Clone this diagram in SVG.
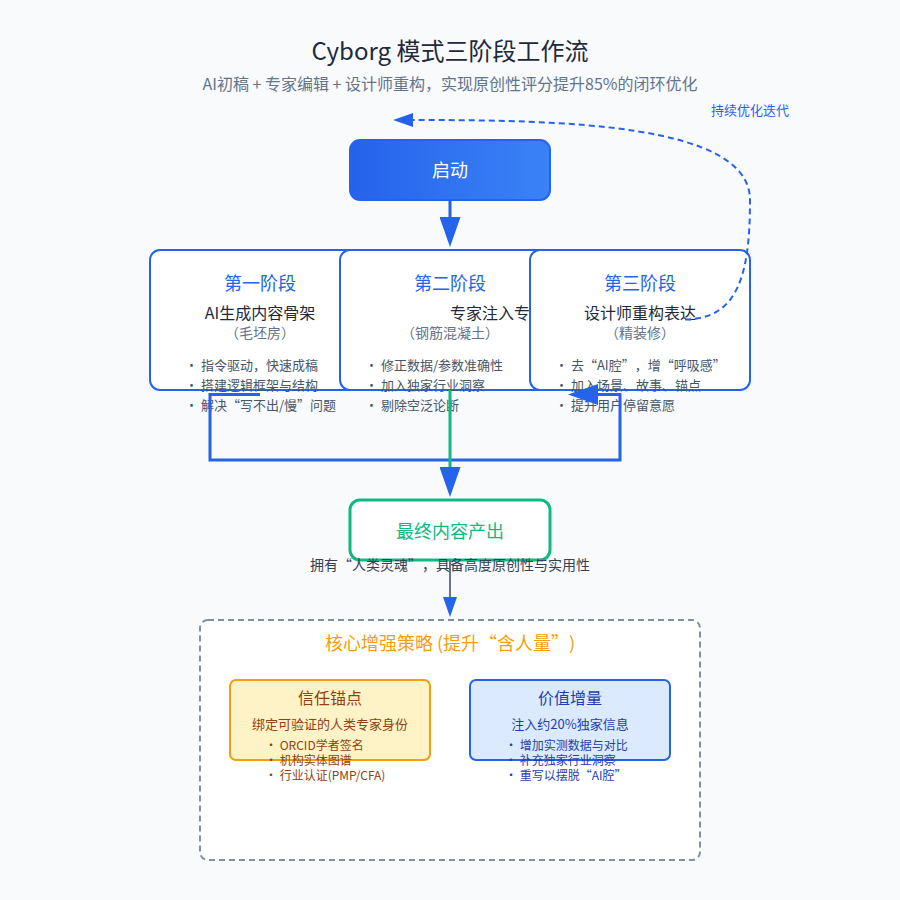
<svg xmlns="http://www.w3.org/2000/svg" width="900" height="900" viewBox="0 0 900 900">
<style>
text{font-family:"Noto Sans CJK SC","Noto Sans",sans-serif;text-spacing-trim:space-all}
.m{text-anchor:middle}
.ptitle{font-size:18px;fill:#2563eb}
.psub{font-size:16px;fill:#1e293b}
.pnote{font-size:14px;fill:#64748b}
.pitem{font-size:13px;fill:#475569}
.pbox{fill:#fff;stroke:#2563eb;stroke-width:2}
.t1{fill:#92400e}
.t2{fill:#1e40af}
</style>
<defs>
<linearGradient id="g" x1="0" y1="0" x2="1" y2="0"><stop offset="0" stop-color="#2563eb"/><stop offset="1" stop-color="#3b82f6"/></linearGradient>
<marker id="a" markerWidth="10" markerHeight="7" refX="0" refY="3.5" orient="auto"><polygon points="0 0,10 3.5,0 7" fill="#2563eb"/></marker>
</defs>
<rect width="900" height="900" fill="#f8fafc"/>
<text class="m" x="450" y="60" font-size="24" fill="#1e293b">Cyborg 模式三阶段工作流</text>
<text class="m" x="450" y="90" font-size="16" fill="#64748b">AI初稿 + 专家编辑 + 设计师重构，实现原创性评分提升85%的闭环优化</text>
<g id="start"><rect x="350" y="140" width="200" height="60" rx="10" fill="url(#g)" stroke="#2563eb" stroke-width="2"/><text class="m" x="450" y="177" font-size="18" fill="#fff">启动</text></g>
<g id="phase1"><rect class="pbox" x="150" y="250" width="220" height="140" rx="10"/>
<text class="m ptitle" x="260" y="290">第一阶段</text><text class="m psub" x="260" y="319">AI生成内容骨架</text><text class="m pnote" x="260" y="338">（毛坯房）</text>
<text class="pitem" x="185" y="370">• 指令驱动，快速成稿</text><text class="pitem" x="185" y="390">• 搭建逻辑框架与结构</text><text class="pitem" x="185" y="410">• 解决“写不出/慢”问题</text></g>
<g id="phase2"><rect class="pbox" x="340" y="250" width="220" height="140" rx="10"/>
<text class="m ptitle" x="450" y="290">第二阶段</text><text class="psub" x="450" y="319">专家注入专</text><text class="m pnote" x="450" y="338">（钢筋混凝土）</text>
<text class="pitem" x="365" y="370">• 修正数据/参数准确性</text><text class="pitem" x="365" y="390">• 加入独家行业洞察</text><text class="pitem" x="365" y="410">• 剔除空泛论断</text></g>
<g id="phase3"><rect class="pbox" x="530" y="250" width="220" height="140" rx="10"/>
<text class="m ptitle" x="640" y="290">第三阶段</text><text class="m psub" x="640" y="319">设计师重构表达</text><text class="m pnote" x="640" y="338">（精装修）</text>
<text class="pitem" x="555" y="370">• 去“AI腔”，增“呼吸感”</text><text class="pitem" x="555" y="390">• 加入场景、故事、锚点</text><text class="pitem" x="555" y="410">• 提升用户停留意愿</text></g>
<g id="strategy"><rect x="200" y="620" width="500" height="240" rx="8" fill="#fff" stroke="#64748b" stroke-width="2" stroke-dasharray="6 4" stroke-opacity=".8"/><text class="m" x="450" y="650" font-size="18" fill="#f59e0b">核心增强策略 (提升“含人量”)</text></g>
<g id="trust"><rect x="230" y="680" width="200" height="80" rx="6" fill="#fef3c7" stroke="#f59e0b" stroke-width="2"/>
<text class="m t1" x="330" y="704" font-size="16">信任锚点</text><text class="m t1" x="330" y="729" font-size="13">绑定可验证的人类专家身份</text>
<text class="t1" x="265" y="750" font-size="12">• ORCID学者签名</text><text class="t1" x="265" y="765" font-size="12">• 机构实体图谱</text><text class="t1" x="265" y="780" font-size="12">• 行业认证(PMP/CFA)</text></g>
<g id="value"><rect x="470" y="680" width="200" height="80" rx="6" fill="#dbeafe" stroke="#2563eb" stroke-width="2"/>
<text class="m t2" x="570" y="704" font-size="16">价值增量</text><text class="m t2" x="570" y="729" font-size="13">注入约20%独家信息</text>
<text class="t2" x="505" y="750" font-size="12">• 增加实测数据与对比</text><text class="t2" x="505" y="765" font-size="12">• 补充独家行业洞察</text><text class="t2" x="505" y="780" font-size="12">• 重写以摆脱“AI腔”</text></g>
<g id="final"><rect x="350" y="500" width="200" height="60" rx="10" fill="#fff" stroke="#10b981" stroke-width="3"/><text class="m" x="450" y="538" font-size="18" fill="#10b981">最终内容产出</text></g>
<text class="m" x="450" y="570" font-size="14" fill="#334155">拥有“人类灵魂”，具备高度原创性与实用性</text>
<g id="connectors" fill="none">
<path d="M450 200V217" stroke="#2563eb" stroke-width="3" marker-end="url(#a)"/>
<path d="M260 394.5H210V460H620V394.5H598" stroke="#2563eb" stroke-width="3" marker-end="url(#a)"/>
<path d="M450 390V467" stroke="#10b981" stroke-width="3" marker-end="url(#a)"/>
<path d="M450 560V597" stroke="#64748b" stroke-width="2" marker-end="url(#a)"/>
<path d="M685 319.5C738 319 750 275 750 200C750 123 560 120 413 120" stroke="#2563eb" stroke-width="2" stroke-dasharray="6 4" marker-end="url(#a)"/>
</g>
<text class="m" x="750" y="115" font-size="13" fill="#2563eb">持续优化迭代</text>
</svg>
